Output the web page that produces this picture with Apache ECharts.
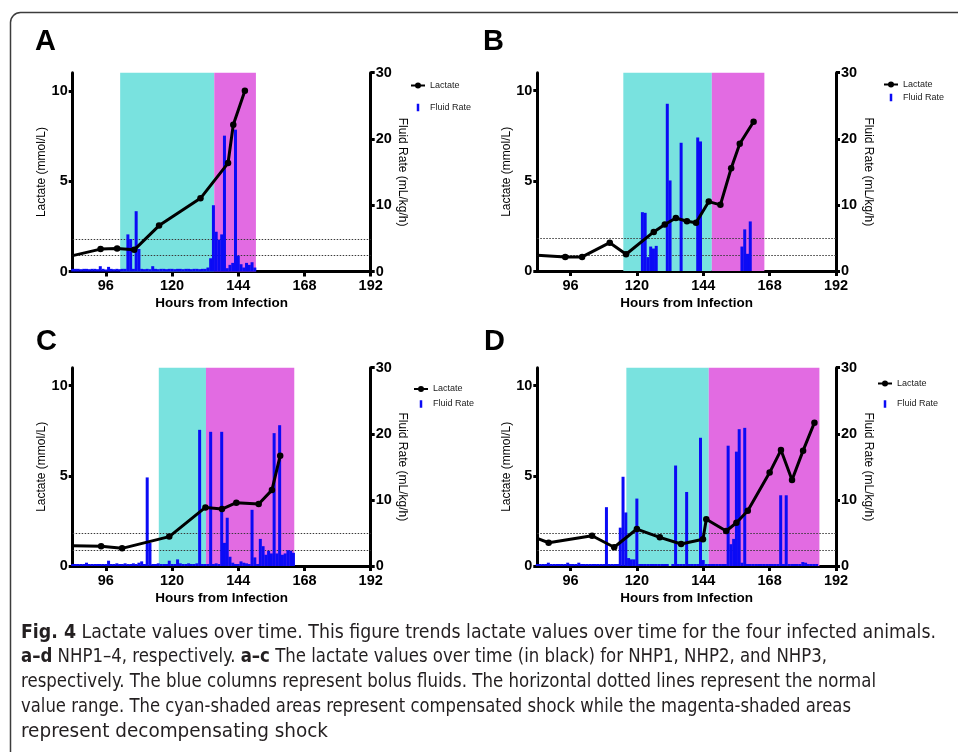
<!DOCTYPE html>
<html>
<head>
<meta charset="utf-8">
<script src="https://cdn.jsdelivr.net/npm/echarts@6/dist/echarts.min.js"></script>
<style>
  html, body { margin: 0; padding: 0; background: #fff; }
  #chart { width: 958px; height: 752px; }
</style>
</head>
<body>
<div id="chart"></div>
<script>
// ---- Axis ticks ----
const hourTicks = [96, 120, 144, 168, 192];
const lactateTicks = [0, 5, 10];
const panelLetters = ['A', 'B', 'C', 'D'];

// ---- Lactate (mmol/L) samples as [hour, value] ----
const lactateA = [[84, 0.88], [94.1, 1.24], [100.1, 1.27], [106.3, 1.2], [115.3, 2.54], [130.3, 4.05], [140.3, 6.0], [142.2, 8.12], [146.4, 10.0]];
const lactateB = [[84, 0.88], [94.1, 0.78], [100.2, 0.78], [110.2, 1.57], [116.1, 0.93], [126.1, 2.17], [130.1, 2.58], [134.1, 2.94], [138.1, 2.76], [141.4, 2.68], [146.0, 3.85], [150.2, 3.67], [154.1, 5.7], [157.2, 7.06], [162.2, 8.28]];
const lactateC = [[84, 1.13], [94.3, 1.09], [101.9, 0.98], [119.0, 1.63], [132.1, 3.25], [138.1, 3.16], [143.3, 3.51], [151.4, 3.44], [156.2, 4.21], [159.2, 6.12]];
const lactateD = [[84, 1.53], [88.1, 1.29], [103.8, 1.68], [111.8, 1.04], [120.0, 2.05], [128.3, 1.59], [136.0, 1.22], [143.9, 1.48], [145.1, 2.59], [152.3, 1.94], [156.0, 2.4], [160.1, 3.07], [168.0, 5.18], [172.1, 6.43], [176.1, 4.77], [180.1, 6.4], [184.2, 7.95]];

// ---- Hourly fluid rate (mL/kg/h); first value belongs to the start hour ----
const fluidStartA = 84;
const fluidA = [
  0.4, 0.4, 0.4, 0.35, 0.4, 0.4, 0.35, 0.4, 0.4, 0.35,   // 84-93
  0.8, 0.4, 0.3, 0.7, 0.4, 0.35, 0.4, 0.35, 0.4, 0.4,    // 94-103
  5.6, 4.9, 0.4, 9.1, 3.4, 0.4, 0.35, 0.4, 0.35, 0.8,    // 104-113
  0.4, 0.35, 0.4, 0.4, 0.35, 0.4, 0.4, 0.35, 0.4, 0.4,   // 114-123
  0.35, 0.4, 0.4, 0.35, 0.4, 0.4, 0.35, 0.4, 0.4, 0.6,   // 124-133
  2.0, 10.0, 6.0, 4.8, 5.6, 20.5, 0.5, 1.0, 1.3, 21.4,   // 134-143
  2.4, 1.1, 0.6, 1.3, 1.0, 1.4, 0.6                      // 144-150
];
const fluidStartB = 122;
const fluidB = [
  8.9, 8.8, 2.1, 3.7, 3.4, 3.8, 0, 0, 0, 25.3,           // 122-131
  13.7, 0, 0, 0, 19.4, 0, 0, 0, 0, 0,                    // 132-141
  20.2, 19.6, 0, 0, 0, 0, 0, 0, 0, 0,                    // 142-151
  0, 0, 0, 0, 0, 0, 3.7, 6.3, 2.6, 7.5                   // 152-161
];
const fluidStartC = 84;
const fluidC = [
  0.3, 0.3, 0.3, 0.3, 0.3, 0.5, 0.3, 0.3, 0.3, 0.3,      // 84-93
  0.3, 0.3, 0.3, 0.8, 0.3, 0.3, 0.4, 0.3, 0.3, 0.4,      // 94-103
  0.3, 0.3, 0.4, 0.3, 0.5, 0.7, 0.3, 13.4, 3.5, 0.3,     // 104-113
  0.3, 0.4, 0.3, 0.3, 0.3, 0.8, 0.3, 0.3, 1.0, 0.4,      // 114-123
  0.3, 0.3, 0.4, 0.3, 0.3, 0.4, 20.6, 0.3, 0.3, 0.3,     // 124-133
  20.3, 0.3, 0.4, 0.3, 20.3, 3.5, 7.3, 1.4, 0.5, 0.3,    // 134-143
  0.3, 0.7, 0.5, 0.4, 0.3, 8.5, 1.3, 0.3, 4.1, 3.0,      // 144-153
  1.7, 2.3, 1.9, 20.1, 1.9, 21.3, 1.7, 1.9, 2.4, 2.3,    // 154-163
  2.0                                                    // 164
];
const fluidStartD = 84;
const fluidD = [
  0.3, 0.3, 0.3, 0.3, 0.5, 0.3, 0.3, 0.3, 0.3, 0.3,      // 84-93
  0.3, 0.5, 0.3, 0.3, 0.3, 0.5, 0.3, 0.3, 0.3, 0.3,      // 94-103
  0.3, 0.3, 0.3, 0.3, 0.3, 8.9, 0.3, 0.3, 0.3, 0.3,      // 104-113
  5.8, 13.5, 8.1, 1.2, 1.0, 1.0, 10.2, 0.3, 0.3, 0.3,    // 114-123
  0.3, 0.3, 0.3, 0.3, 0.3, 0.3, 0.3, 0.3, 0, 0.3,        // 124-133
  15.2, 0.3, 0.3, 0.3, 11.2, 0.3, 0.3, 0.3, 0.3, 19.4,   // 134-143
  0.9, 0.3, 0.3, 0.3, 0.3, 0.3, 0.3, 0.3, 0.3, 18.2,     // 144-153
  3.3, 4.1, 17.3, 20.7, 0.5, 20.9, 0.3, 0.3, 0.3, 0.3,   // 154-163
  0.3, 0.3, 0.3, 0.3, 0.3, 0.3, 0.3, 0.3, 10.7, 0.3,     // 164-173
  10.7, 0.3, 0.3, 0.3, 0.3, 0.3, 0.6, 0.5, 0.3, 0.3,     // 174-183
  0.3, 0.3                                               // 184-185
];

// ---- Shock phases (hours): compensated and decompensating ----
const compensatedA = [101.2, 135.3];
const decompensatedA = [135.3, 150.4];
const compensatedB = [115.1, 147.1];
const decompensatedB = [147.1, 166.1];
const compensatedC = [115.2, 132.3];
const decompensatedC = [132.3, 164.3];
const compensatedD = [116.2, 146.0];
const decompensatedD = [146.0, 186.0];

// ---- Normal lactate range (mmol/L) ----
const normalRange = [0.9, 1.8];

// ---- Caption lines ----
const captionLines = [
  '{b|Fig. 4} Lactate values over time. This figure trends lactate values over time for the four infected animals.',
  '{b|a–d} NHP1–4, respectively. {b|a–c} The lactate values over time (in black) for NHP1, NHP2, and NHP3,',
  'respectively. The blue columns represent bolus fluids. The horizontal dotted lines represent the normal',
  'value range. The cyan-shaded areas represent compensated shock while the magenta-shaded areas',
  'represent decompensating shock'
];

// ---------------------------------------------------------------------------
const FONT = '"Liberation Sans", Arial, Helvetica, sans-serif';
const CAPTION_FONT = '"Liberation Sans Narrow", "DejaVu Sans Condensed", sans-serif';
const CAPTION_SIZE = 20;
const CYAN = '#79e2df';
const MAGENTA = '#e26be2';
const BLUE = '#0b0bf5';

const panels = [
  { lactate: lactateA, fluidStart: fluidStartA, fluid: fluidA, comp: compensatedA, decomp: decompensatedA,
    grid: { left: 72.7, top: 72.7, width: 298, height: 198.8 },
    legend: { left: 410, top: 81, itemGap: 13 }, letter: { left: 35, top: 27 } },
  { lactate: lactateB, fluidStart: fluidStartB, fluid: fluidB, comp: compensatedB, decomp: decompensatedB,
    grid: { left: 537.3, top: 72.7, width: 298.7, height: 198.3 },
    legend: { left: 883, top: 80, itemGap: 4 }, letter: { left: 483, top: 27 } },
  { lactate: lactateC, fluidStart: fluidStartC, fluid: fluidC, comp: compensatedC, decomp: decompensatedC,
    grid: { left: 72.7, top: 367.7, width: 298, height: 198.3 },
    legend: { left: 413, top: 384.5, itemGap: 6 }, letter: { left: 36, top: 327 } },
  { lactate: lactateD, fluidStart: fluidStartD, fluid: fluidD, comp: compensatedD, decomp: decompensatedD,
    grid: { left: 537.3, top: 367.7, width: 298.7, height: 198.3 },
    legend: { left: 877, top: 379, itemGap: 11.5 }, letter: { left: 484, top: 327 } }
];

const axisLineStyle = { color: '#000', width: 3 };
const tickLabel = { color: '#000', fontSize: 14.5, fontWeight: 'bold', fontFamily: FONT };

const option = {
  animation: false,
  backgroundColor: '#fff',
  grid: [], xAxis: [], yAxis: [], series: [], legend: [], title: [],
  graphic: []
};

panels.forEach((p, i) => {
  option.grid.push(Object.assign({ containLabel: false }, p.grid));

  option.xAxis.push({
    type: 'value', gridIndex: i, min: 84, max: 192,
    axisLine: { show: true, onZero: false, lineStyle: axisLineStyle },
    axisTick: { show: true, customValues: hourTicks, length: 5, lineStyle: { width: 3, color: '#000' } },
    axisLabel: Object.assign({ customValues: hourTicks, margin: 7 }, tickLabel),
    splitLine: { show: false },
    name: 'Hours from Infection', nameLocation: 'middle', nameGap: 25,
    nameTextStyle: { color: '#000', fontSize: 13.5, fontWeight: 'bold', fontFamily: FONT }
  });

  option.yAxis.push({
    type: 'value', gridIndex: i, position: 'left', min: 0, max: 11,
    axisLine: { show: true, lineStyle: axisLineStyle },
    axisTick: { show: true, customValues: lactateTicks, length: 4, lineStyle: { width: 3, color: '#000' } },
    axisLabel: Object.assign({ customValues: lactateTicks, margin: 5 }, tickLabel),
    splitLine: { show: false },
    name: 'Lactate (mmol/L)', nameLocation: 'middle', nameGap: 19, nameRotate: 90,
    nameTextStyle: { color: '#000', fontSize: 12, fontFamily: FONT }
  });
  option.yAxis.push({
    type: 'value', gridIndex: i, position: 'right', min: 0, max: 30, interval: 10,
    axisLine: { show: true, lineStyle: axisLineStyle },
    axisTick: { show: true, length: 4, lineStyle: { width: 3, color: '#000' } },
    axisLabel: Object.assign({ margin: 5 }, tickLabel),
    splitLine: { show: false },
    name: 'Fluid Rate (mL/kg/h)', nameLocation: 'middle', nameGap: 26, nameRotate: -90,
    nameTextStyle: { color: '#000', fontSize: 12, fontFamily: FONT }
  });

  // Fluid columns with the shock phases shaded behind them
  option.series.push({
    type: 'bar', name: 'Fluid Rate', xAxisIndex: i, yAxisIndex: 2 * i + 1,
    data: p.fluid.map((v, k) => [p.fluidStart + k, v]),
    barWidth: 3, itemStyle: { color: BLUE }, z: 2, silent: true,
    markArea: {
      silent: true, z: 1,
      data: [
        [{ xAxis: p.comp[0], itemStyle: { color: CYAN } }, { xAxis: p.comp[1] }],
        [{ xAxis: p.decomp[0], itemStyle: { color: MAGENTA } }, { xAxis: p.decomp[1] }]
      ]
    }
  });

  // Lactate trend with the normal-range reference lines; the reading sitting
  // on the axis edge is drawn without a marker
  option.series.push({
    type: 'line', name: 'Lactate', xAxisIndex: i, yAxisIndex: 2 * i,
    data: p.lactate.map(d => d[0] <= 84 ? { value: d, symbol: 'none' } : d),
    color: '#000',
    lineStyle: { color: '#000', width: 3 },
    itemStyle: { color: '#000' },
    symbol: 'circle', symbolSize: 6.5, showSymbol: true, z: 3, silent: true,
    markLine: {
      silent: true, z: 1.5, symbol: ['none', 'none'], label: { show: false },
      lineStyle: { type: [1.5, 1.5], color: '#3a3a3a', width: 1 },
      data: normalRange.map(v => ({ yAxis: v }))
    }
  });

  option.legend.push({
    orient: 'vertical', left: p.legend.left, top: p.legend.top, itemGap: p.legend.itemGap,
    itemWidth: 14, itemHeight: 7.5, padding: 0, selectedMode: false,
    textStyle: { fontSize: 9, color: '#222', fontFamily: FONT },
    data: [{ name: 'Lactate' }, { name: 'Fluid Rate', icon: 'path://M0,0h1v3h-1z' }]
  });

  option.title.push({
    text: panelLetters[i], left: p.letter.left, top: p.letter.top, padding: 0,
    textStyle: { fontSize: 29, fontWeight: 'bold', color: '#000', fontFamily: FONT }
  });
});

// Figure frame
option.graphic.push({
  type: 'rect', silent: true,
  shape: { x: 10.5, y: 12.5, width: 990, height: 800, r: 10 },
  style: { fill: 'none', stroke: '#3c3c3c', lineWidth: 1.5 }
});

// Caption: each line is squeezed horizontally to its set right edge
const captionCenters = [633, 657, 682, 707, 732];
const captionRight = [936, 827, 876, 851, 328];
const captionLeft = 21;
const measureCtx = document.createElement('canvas').getContext('2d');
function captionWidth(line) {
  let w = 0;
  line.split(/(\{b\|[^}]*\})/).forEach(seg => {
    if (!seg) return;
    const m = seg.match(/^\{b\|([^}]*)\}$/);
    measureCtx.font = (m ? 'bold ' : '') + CAPTION_SIZE + 'px ' + CAPTION_FONT;
    w += measureCtx.measureText(m ? m[1] : seg).width;
  });
  return w;
}
captionLines.forEach((line, k) => {
  const natural = captionWidth(line);
  option.graphic.push({
    type: 'text', silent: true,
    x: captionLeft, y: captionCenters[k],
    scaleX: (captionRight[k] - captionLeft) / natural,
    originX: 0, originY: 0,
    style: {
      text: line, fill: '#231f20', fontSize: CAPTION_SIZE, fontFamily: CAPTION_FONT,
      verticalAlign: 'middle', align: 'left',
      rich: { b: { fontWeight: 'bold', fontSize: CAPTION_SIZE, fontFamily: CAPTION_FONT, fill: '#231f20' } }
    }
  });
});

const chart = echarts.init(document.getElementById('chart'), null, { renderer: 'canvas' });
chart.setOption(option);
</script>
</body>
</html>
